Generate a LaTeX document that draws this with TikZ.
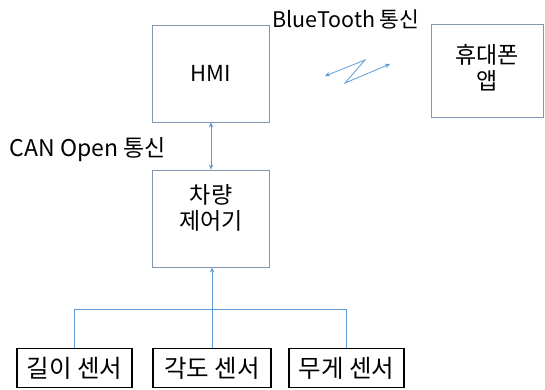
\documentclass[tikz,border=0pt]{standalone}
\usepackage{fontspec}
\setmainfont{Noto Sans CJK KR}
\usetikzlibrary{arrows.meta}
\definecolor{boxgray}{RGB}{132,151,176}
\definecolor{linkblue}{RGB}{91,155,213}
\tikzset{
  box/.style={draw=boxgray, line width=0.8pt, align=center, inner sep=0pt, font=\fontsize{23}{26}\selectfont},
  boxtext/.style={align=center, inner sep=0pt, font=\fontsize{23}{26}\selectfont},
  sensor/.style={draw=black, line width=1.2pt, inner sep=0pt, minimum height=39pt, font=\fontsize{24.5}{27}\selectfont},
  link/.style={draw=linkblue, line width=0.8pt},
  tip/.style={-{Stealth[length=5pt,width=4.5pt]}},
  bitip/.style={{Stealth[length=5pt,width=4.5pt]}-{Stealth[length=5pt,width=4.5pt]}},
  lbl/.style={inner sep=0pt, font=\fontsize{21.5}{25}\selectfont}
}
\begin{document}
\begin{tikzpicture}[x=1pt,y=-1pt]
\useasboundingbox (0,0) rectangle (545,389);
% boxes
\node[box, minimum width=116.6pt, minimum height=97pt] (hmi) at (211,73.5) {\fontsize{22}{26}\selectfont HMI};
\node[box, minimum width=112pt, minimum height=93pt] (phone) at (487,70.5) {};
\node[boxtext] (phonetext) at ([yshift=3pt]phone.center) {휴대폰\\앱};
\node[box, minimum width=116.6pt, minimum height=97pt] (ctrl) at (211,218.5) {};
\node[boxtext] (ctrltext) at ([yshift=11pt]ctrl.center) {차량\\제어기};
% sensors
\node[sensor, minimum width=115pt] (s1) at (74.5,368) {길이 센서};
\node[sensor, minimum width=118pt] (s2) at (212,368) {각도 센서};
\node[sensor, minimum width=115pt] (s3) at (346.5,368) {무게 센서};
% labels
\node[lbl] (bt) at (346,19) {BlueTooth 통신};
\node[lbl, font=\fontsize{23}{26}\selectfont] (can) at (88,150) {CAN Open 통신};
% HMI <-> controller
\draw[link, bitip] (hmi.south) -- (ctrl.north);
% sensor bus
\coordinate (busy) at (0,309);
\draw[link] (s1.north) -- (s1.north |- busy) -- (s3.north |- busy) -- (s3.north);
\draw[link, tip] (s2.north) -- (s2.north |- ctrl.south);
% bluetooth zigzag
\coordinate (z1) at (325,76);
\coordinate (z2) at (365,60);
\coordinate (z3) at (345,83);
\coordinate (z4) at (390,64);
\draw[link, bitip] (z1) -- (z2) -- (z3) -- (z4);
\end{tikzpicture}
\end{document}
